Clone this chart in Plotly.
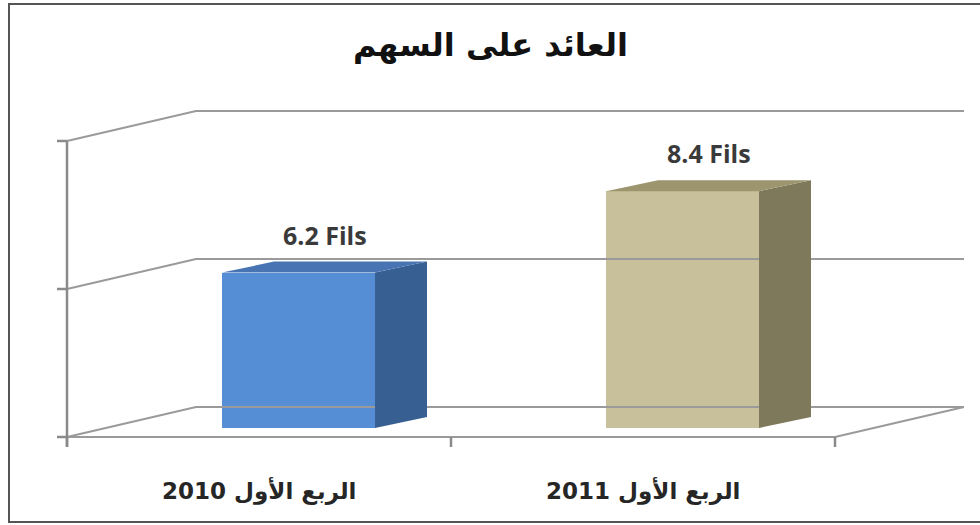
import plotly.graph_objects as go

# ---- data ----
categories = ["الربع الأول 2010", "الربع الأول 2011"]
values = [6.2, 8.4]
value_labels = ["6.2 Fils", "8.4 Fils"]
tick_values = [2, 6, 10]
title_text = "العائد على السهم"

front_colors = ["#558ED5", "#C8C09A"]
side_colors = ["#375F91", "#7F795B"]
top_colors = ["#4874B4", "#9C956E"]

# ---- geometry (style constants, in axis units) ----
PX_X = 384.0          # px per category
PX_Y = 37.0           # px per value unit
ymin_axis = tick_values[0]
cat_idx = list(range(len(categories)))
x_left = -0.5
x_right = len(categories) - 0.5
wall_dx, wall_dy = 129 / PX_X, 30 / PX_Y      # back-wall depth offset
bar_off_x, bar_off_y = 39.5 / PX_X, 9 / PX_Y  # bar front plane offset
bar_w = 153 / PX_X
bar_dx, bar_dy = 52 / PX_X, 11 / PX_Y         # bar depth
tick_len_x = 10 / PX_X
tick_len_y = 10 / PX_Y

fig = go.Figure()
grid_col = "#9a9a9a"

# walls: back wall gridlines + left side wall diagonals
gx, gy = [], []
for t in tick_values:
    gx += [x_left, x_left + wall_dx, x_right + wall_dx, None]
    gy += [t, t + wall_dy, t + wall_dy, None]
# floor front + right edge
gx += [x_left, x_right, x_right + wall_dx, None]
gy += [ymin_axis, ymin_axis, ymin_axis + wall_dy, None]
fig.add_trace(go.Scatter(x=gx, y=gy, mode="lines",
                         line=dict(color=grid_col, width=2), hoverinfo="skip"))

# vertical axis with ticks
ax, ay = [x_left, x_left, None], [tick_values[-1], ymin_axis - tick_len_y, None]
for t in tick_values:
    ax += [x_left - tick_len_x, x_left, None]
    ay += [t, t, None]
for b in [x_left + k for k in range(len(categories) + 1)]:
    ax += [b, b, None]
    ay += [ymin_axis, ymin_axis - tick_len_y, None]
fig.add_trace(go.Scatter(x=ax, y=ay, mode="lines",
                         line=dict(color="#8a8a8a", width=2.5), hoverinfo="skip"))

# bars: front faces
fig.add_trace(go.Bar(
    x=[i + bar_off_x for i in cat_idx],
    y=[v - ymin_axis for v in values],
    base=ymin_axis + bar_off_y,
    width=bar_w,
    marker=dict(color=front_colors, line=dict(width=0)),
    hoverinfo="skip",
))

# bars: top and side faces
for i, v in zip(cat_idx, values):
    xl = i + bar_off_x - bar_w / 2
    xr = i + bar_off_x + bar_w / 2
    yb = ymin_axis + bar_off_y
    yt = v + bar_off_y
    fig.add_trace(go.Scatter(
        x=[xr, xr, xr + bar_dx, xr + bar_dx, xr],
        y=[yb, yt, yt + bar_dy, yb + bar_dy, yb],
        fill="toself", fillcolor=side_colors[i], mode="lines",
        line=dict(width=0, color=side_colors[i]), hoverinfo="skip"))
    fig.add_trace(go.Scatter(
        x=[xl, xr, xr + bar_dx, xl + bar_dx, xl],
        y=[yt, yt, yt + bar_dy, yt + bar_dy, yt],
        fill="toself", fillcolor=top_colors[i], mode="lines",
        line=dict(width=0, color=top_colors[i]), hoverinfo="skip"))
    # value label
    fig.add_annotation(x=i + bar_off_x + bar_dx / 2, y=yt + bar_dy,
                       text=f"<b>{value_labels[i]}</b>", showarrow=False,
                       yanchor="middle", yshift=27,
                       font=dict(family="Open Sans", size=25, color="#3a3a3a"))
    # category label
    fig.add_annotation(x=i, y=ymin_axis, text=f"<b>{categories[i]}</b>",
                       showarrow=False, yanchor="middle", yshift=-53,
                       font=dict(family="DejaVu Sans", size=23, color="#262626"))

fig.add_annotation(x=0.5, y=1 - 45 / 525, xref="paper", yref="paper",
                   text=f"<b>{title_text}</b>", showarrow=False,
                   xanchor="center", yanchor="middle",
                   font=dict(family="DejaVu Sans", size=32, color="#111111"))

# outer frame (left, top, bottom edges only; right edge lies outside)
fx0, fy0, fy1 = 9 / 980, 1 - 522 / 525, 1 - 4 / 525
fig.add_shape(type="path", xref="paper", yref="paper",
              path=f"M 1.1,{fy1} L {fx0},{fy1} L {fx0},{fy0} L 1.1,{fy0}",
              line=dict(color="#555555", width=2))

fig.update_layout(
    width=980, height=525,
    margin=dict(l=0, r=0, t=0, b=0),
    paper_bgcolor="white", plot_bgcolor="white",
    showlegend=False, bargap=0,
    xaxis=dict(visible=False, range=[(0 - 259) / PX_X, (980 - 259) / PX_X], fixedrange=True),
    yaxis=dict(visible=False, range=[ymin_axis - (525 - 437) / PX_Y, ymin_axis + 437 / PX_Y], fixedrange=True),
)

fig.write_html("out.html", config={"displayModeBar": False},
               post_script="document.body.style.margin='0';document.body.style.padding='0';document.body.style.overflow='hidden';")
